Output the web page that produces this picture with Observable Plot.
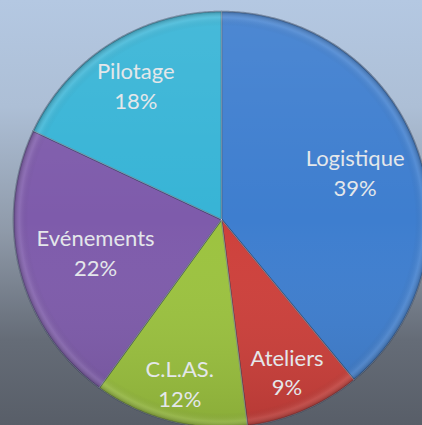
<!DOCTYPE html>
<html>
<head>
<meta charset="utf-8">
<script src="https://cdn.jsdelivr.net/npm/d3@7"></script>
<script src="https://cdn.jsdelivr.net/npm/@observablehq/plot@0.6"></script>
<style>
  html, body { margin: 0; padding: 0; }
  body {
    width: 422px; height: 425px; overflow: hidden;
    background: linear-gradient(to bottom, #b4c8e2 0%, #adbfd6 25%, #8e99a8 55%, #656c77 80%, #585e68 100%);
  }
  #chart svg { display: block; }
</style>
</head>
<body>
<div id="chart"></div>
<script>
// Data
const categories = ["Logistique", "Ateliers", "C.L.AS.", "Evénements", "Pilotage"];
const shares = [39, 9, 12, 22, 18];
const percentLabels = ["39%", "9%", "12%", "22%", "18%"];
const colors = ["#3e7ecf", "#ce403b", "#9cc33f", "#7e5bab", "#37b4d6"];

// Layout
const W = 422, H = 425, cx = 221, cy = 219, R = 208;
const labelRadius = [142, 165, 168, 130, 160];

const pie = d3.pie().sort(null).value(d => d.value).startAngle(0).endAngle(2 * Math.PI);
const arcs = pie(categories.map((c, i) => ({cat: c, value: shares[i], label: percentLabels[i]})));

// polygon vertices of each slice (center + arc)
const pts = [];
arcs.forEach(a => {
  pts.push({cat: a.data.cat, x: 0, y: 0});
  const n = Math.max(2, Math.ceil((a.endAngle - a.startAngle) / (Math.PI / 360)));
  for (let k = 0; k <= n; k++) {
    const t = a.startAngle + (a.endAngle - a.startAngle) * k / n;
    pts.push({cat: a.data.cat, x: R * Math.sin(t), y: R * Math.cos(t)});
  }
});

const labels = arcs.map((a, i) => {
  const m = (a.startAngle + a.endAngle) / 2;
  return {text: a.data.cat + "\n" + a.data.label, x: labelRadius[i] * Math.sin(m), y: labelRadius[i] * Math.cos(m)};
});

const chart = Plot.plot({
  width: W, height: H,
  margin: 0,
  style: {background: "transparent", overflow: "hidden"},
  x: {domain: [-cx, W - cx], range: [0, W], axis: null},
  y: {domain: [cy, cy - H], range: [0, H], axis: null},
  color: {domain: categories, range: colors},
  marks: [
    Plot.line(pts, {x: "x", y: "y", z: "cat", fill: "cat", stroke: "#1f2f4a", strokeOpacity: 0.45, strokeWidth: 1.6, curve: "linear-closed"}),
    Plot.dot([{x: 0, y: 0}], {x: "x", y: "y", r: R, fill: "url(#shadeV)", stroke: "none"}),
    Plot.dot([{x: 0, y: 0}], {x: "x", y: "y", r: R, fill: "url(#shadeR)", stroke: "none"}),
    Plot.line(pts, {x: "x", y: "y", z: "cat", fill: "none", stroke: "#ffffff", strokeOpacity: 0.18, strokeWidth: 1, curve: "linear-closed"}),
    Plot.text(labels, {x: "x", y: "y", text: "text", fill: "#e4e7ea", fontSize: 22, lineHeight: 1.36, fontFamily: "Lato, 'Open Sans', sans-serif", textAnchor: "middle", lineAnchor: "middle"})
  ]
});

const ns = "http://www.w3.org/2000/svg";
const defs = document.createElementNS(ns, "defs");
defs.innerHTML = `
  <linearGradient id="shadeV" x1="0" y1="0" x2="0" y2="1">
    <stop offset="0" stop-color="#ffffff" stop-opacity="0.08"/>
    <stop offset="0.5" stop-color="#ffffff" stop-opacity="0"/>
    <stop offset="1" stop-color="#000000" stop-opacity="0.12"/>
  </linearGradient>
  <radialGradient id="shadeR" cx="0.5" cy="0.5" r="0.5">
    <stop offset="0" stop-color="#000000" stop-opacity="0"/>
    <stop offset="0.93" stop-color="#000000" stop-opacity="0"/>
    <stop offset="0.97" stop-color="#ffffff" stop-opacity="0.10"/>
    <stop offset="1" stop-color="#000000" stop-opacity="0.25"/>
  </radialGradient>`;
chart.insertBefore(defs, chart.firstChild);
document.getElementById("chart").appendChild(chart);
</script>
</body>
</html>
